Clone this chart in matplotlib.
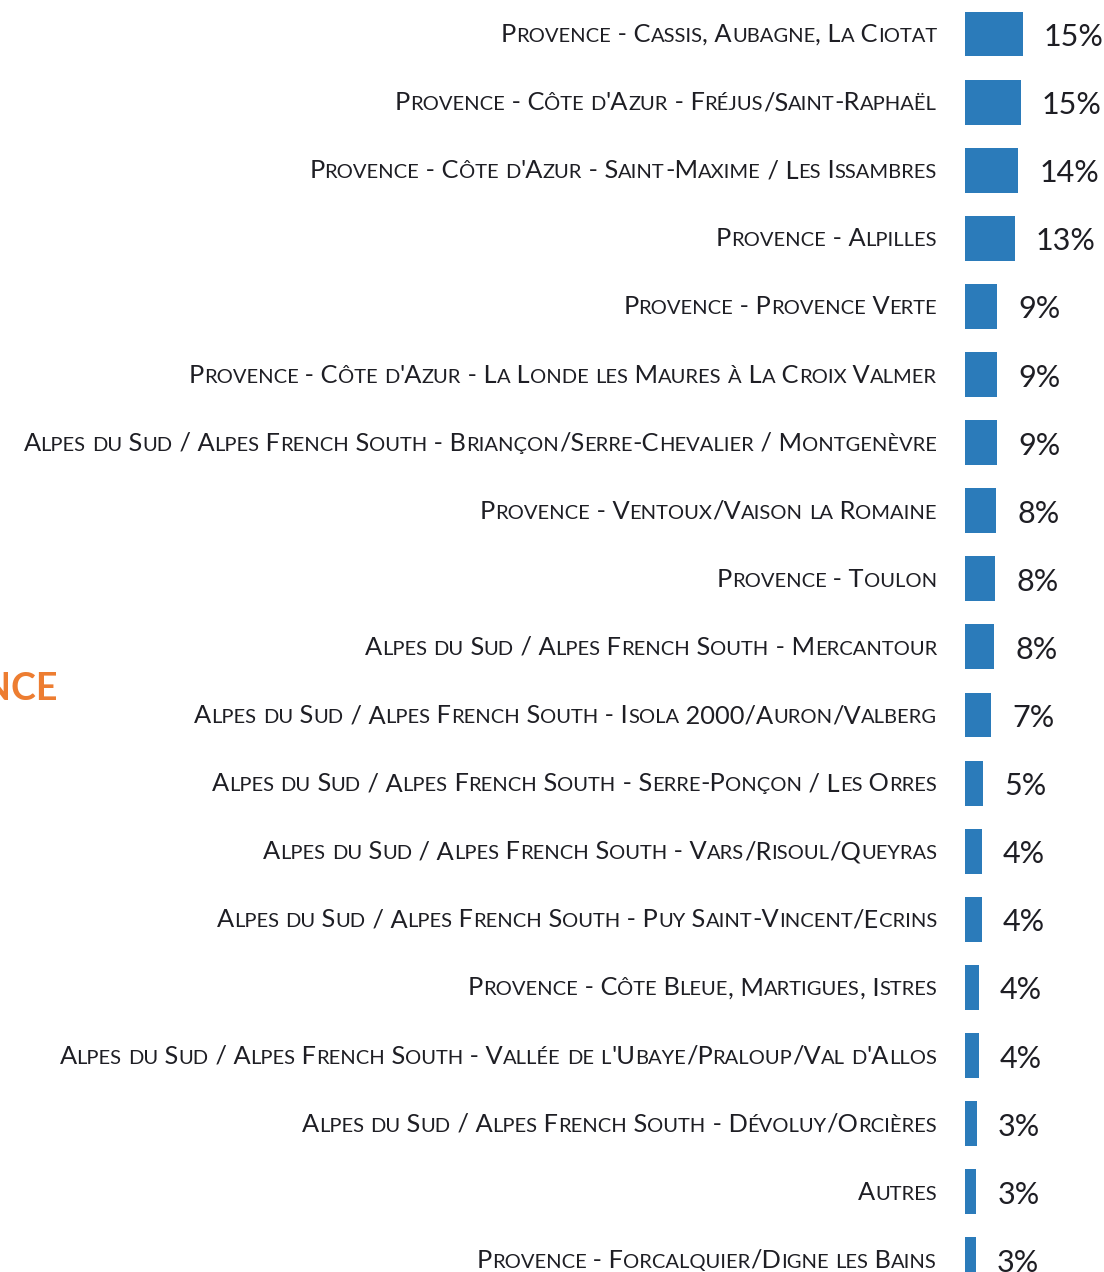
import matplotlib
matplotlib.use("Agg")
import matplotlib.pyplot as plt
from matplotlib.transforms import IdentityTransform, offset_copy

# data (bar lengths, shown labels are rounded)
categories = [
    "Provence - Cassis, Aubagne, La Ciotat",
    "Provence - Côte d'Azur - Fréjus/Saint-Raphaël",
    "Provence - Côte d'Azur - Saint-Maxime / Les Issambres",
    "Provence - Alpilles",
    "Provence - Provence Verte",
    "Provence - Côte d'Azur - La Londe les Maures à La Croix Valmer",
    "Alpes du Sud / Alpes French South - Briançon/Serre-Chevalier / Montgenèvre",
    "Provence - Ventoux/Vaison la Romaine",
    "Provence - Toulon",
    "Alpes du Sud / Alpes French South - Mercantour",
    "Alpes du Sud / Alpes French South - Isola 2000/Auron/Valberg",
    "Alpes du Sud / Alpes French South - Serre-Ponçon / Les Orres",
    "Alpes du Sud / Alpes French South - Vars/Risoul/Queyras",
    "Alpes du Sud / Alpes French South - Puy Saint-Vincent/Ecrins",
    "Provence - Côte Bleue, Martigues, Istres",
    "Alpes du Sud / Alpes French South - Vallée de l'Ubaye/Praloup/Val d'Allos",
    "Alpes du Sud / Alpes French South - Dévoluy/Orcières",
    "Autres",
    "Provence - Forcalquier/Digne les Bains",
]
values = [15.4, 14.9, 14.2, 13.3, 8.6, 8.6, 8.6, 8.3, 8.0, 7.8, 6.9, 4.8, 4.5, 4.5, 3.7, 3.6, 3.2, 3.0, 2.8]
value_labels = ["15%", "15%", "14%", "13%", "9%", "9%", "9%", "8%", "8%", "8%",
                "7%", "5%", "4%", "4%", "4%", "4%", "3%", "3%", "3%"]
side_title = "PROVENCE"

FONT = "Lato"
BAR = "#2B7BBA"
TXT = "#1E1E24"
W, H = 1104, 1272

fig = plt.figure(figsize=(W / 100, H / 100), dpi=100)
ax = fig.add_axes([965 / W, 0, 1 - 965 / W, 1])
ax.barh(range(len(values)), values, height=0.66, color=BAR)
ax.set_xlim(0, (W - 965) / 3.75)
ax.set_ylim((H - 34) / 68.1, -34 / 68.1)
ax.axis("off")

renderer = fig.canvas.get_renderer()


def text_w(s, size):
    t = fig.text(0, 0, "|" + s + "|", fontsize=size, family=FONT, transform=IdentityTransform())
    w = t.get_window_extent(renderer).width
    t.remove()
    t = fig.text(0, 0, "||", fontsize=size, family=FONT, transform=IdentityTransform())
    w0 = t.get_window_extent(renderer).width
    t.remove()
    return w - w0


def small_caps(text, x_right, y_base, big=18.3, small=14.5):
    runs = []
    for c in text:
        sm = c.isalpha() and c.islower()
        ch = c.upper() if sm else c
        if runs and runs[-1][1] == sm:
            runs[-1][0] += ch
        else:
            runs.append([ch, sm])
    widths = [text_w(r, small if sm else big) for r, sm in runs]
    x = x_right - sum(widths)
    for (r, sm), w in zip(runs, widths):
        fig.text(x, y_base, r, fontsize=small if sm else big, family=FONT,
                 color=TXT, va="baseline", ha="left", transform=IdentityTransform())
        x += w


for i, cat in enumerate(categories):
    y = ax.transData.transform((0, i))[1]
    small_caps(cat, 937, y - 8)

for i, (v, lab) in enumerate(zip(values, value_labels)):
    tr = offset_copy(ax.transData, fig=fig, x=21, y=-12, units="dots")
    ax.text(v, i, lab, transform=tr, fontsize=22, family=FONT, color=TXT,
            va="baseline", ha="left", clip_on=False)

fig.text(58, H - 700, side_title, ha="right", va="baseline", fontsize=27,
         fontweight="bold", family=FONT, color="#ED7D31", transform=IdentityTransform())

fig.savefig("out.png", dpi=100)
